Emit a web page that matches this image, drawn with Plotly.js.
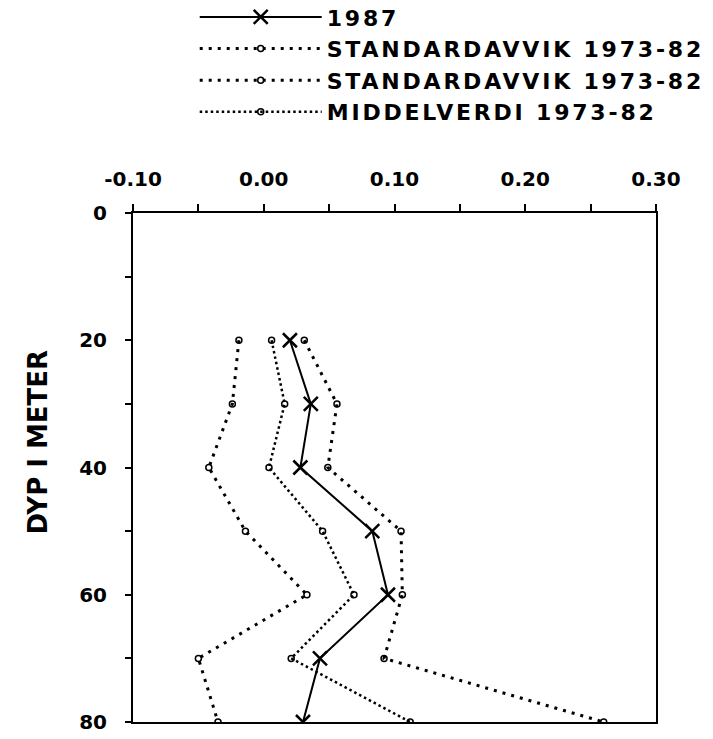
<!DOCTYPE html>
<html>
<head>
<meta charset="utf-8">
<script src="https://cdn.plot.ly/plotly-3.0.1.min.js"></script>
<style>
html,body{margin:0;padding:0;background:#fff;}
#chart{width:713px;height:739px;}
.legendtext{letter-spacing:2.8px;}
</style>
</head>
<body>
<div id="chart"></div>
<script>
// Depth levels (m)
const depth = [20, 30, 40, 50, 60, 70, 80];
// Series values
const values1987 = [0.020, 0.036, 0.028, 0.083, 0.095, 0.043, 0.030];
const stdLow = [-0.019, -0.024, -0.042, -0.014, 0.033, -0.050, -0.035];
const stdHigh = [0.031, 0.056, 0.049, 0.105, 0.106, 0.092, 0.260];
const mean7382 = [0.006, 0.016, 0.004, 0.045, 0.069, 0.021, 0.112];
// Labels
const seriesNames = ['1987', 'STANDARDAVVIK 1973-82', 'STANDARDAVVIK 1973-82', 'MIDDELVERDI 1973-82'];
const xTickVals = [-0.10, 0.00, 0.10, 0.20, 0.30];
const xTickText = ['-0.10', '0.00', '0.10', '0.20', '0.30'];
const yTickVals = [0, 20, 40, 60, 80];
const yTitle = 'DYP I METER';

const fontFam = 'DejaVu Sans, sans-serif';

const traces = [
  {x: values1987, y: depth, name: seriesNames[0], type: 'scatter', mode: 'lines+markers',
   line: {color: '#000', width: 2},
   marker: {symbol: 'x-thin-open', size: 14, color: '#000', line: {color: '#000', width: 2.5}}},
  {x: stdLow, y: depth, name: seriesNames[1], type: 'scatter', mode: 'lines+markers',
   line: {color: '#000', width: 3, dash: '3px,6px'},
   marker: {symbol: 'circle-open', size: 6, color: '#000', line: {color: '#000', width: 1.5}}},
  {x: stdHigh, y: depth, name: seriesNames[2], type: 'scatter', mode: 'lines+markers',
   line: {color: '#000', width: 3, dash: '3px,6px'},
   marker: {symbol: 'circle-open', size: 6, color: '#000', line: {color: '#000', width: 1.5}}},
  {x: mean7382, y: depth, name: seriesNames[3], type: 'scatter', mode: 'lines+markers',
   line: {color: '#000', width: 2.5, dash: '2.5px,3px'},
   marker: {symbol: 'circle-open', size: 6, color: '#000', line: {color: '#000', width: 1.5}}}
];

const layout = {
  width: 713, height: 739, autosize: false,
  paper_bgcolor: '#fff', plot_bgcolor: '#fff',
  margin: {l: 133, r: 57, t: 213, b: 17, pad: 0, autoexpand: false},
  font: {family: fontFam, color: '#000', size: 20, weight: 'bold'},
  showlegend: true,
  legend: {x: 0.118, xanchor: 'left', y: 1.426, yanchor: 'top', bgcolor: 'rgba(0,0,0,0)',
           font: {family: fontFam, size: 22, color: '#000', weight: 'bold'},
           itemwidth: 122, tracegroupgap: 0},
  xaxis: {side: 'top', range: [-0.10, 0.30], tickmode: 'array', tickvals: xTickVals, ticktext: xTickText,
          showgrid: false, zeroline: false, showline: true, linecolor: '#000', linewidth: 2, mirror: true,
          ticks: 'outside', ticklen: 7, tickwidth: 2, tickcolor: '#000', ticklabelstandoff: 10,
          tickfont: {family: fontFam, size: 20, color: '#000', weight: 'bold'},
          minor: {dtick: 0.05, tick0: 0, ticks: 'outside', ticklen: 7, tickwidth: 2, tickcolor: '#000', showgrid: false}},
  yaxis: {range: [80, 0], tickmode: 'array', tickvals: yTickVals,
          showgrid: false, zeroline: false, showline: true, linecolor: '#000', linewidth: 2, mirror: true,
          ticks: 'outside', ticklen: 6, tickwidth: 2, tickcolor: '#000', ticklabelstandoff: 14,
          tickfont: {family: fontFam, size: 20, color: '#000', weight: 'bold'},
          minor: {dtick: 10, tick0: 0, ticks: 'outside', ticklen: 6, tickwidth: 2, tickcolor: '#000', showgrid: false}},
  annotations: [
    {text: yTitle, xref: 'paper', yref: 'paper', x: -0.181, y: 0.55, xanchor: 'center', yanchor: 'middle',
     textangle: -90, showarrow: false, font: {family: fontFam, size: 26, color: '#000', weight: 'bold'}}
  ]
};

Plotly.newPlot('chart', traces, layout, {displayModeBar: false, staticPlot: true});
</script>
</body>
</html>
